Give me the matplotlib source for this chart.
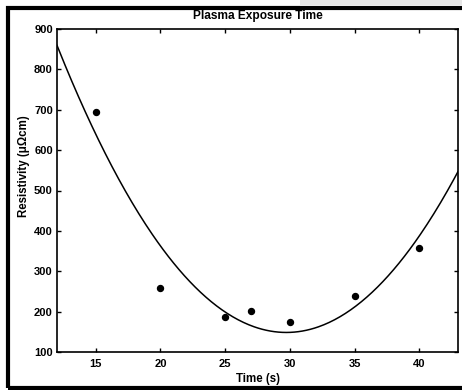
import matplotlib
matplotlib.use("Agg")
import matplotlib.pyplot as plt
from matplotlib.patches import Rectangle
import numpy as np

time_s = [15, 20, 25, 27, 30, 35, 40]
resistivity = [695, 259, 187, 201, 174, 239, 358]

x_ticks = [15, 20, 25, 30, 35, 40]
y_ticks = [100, 200, 300, 400, 500, 600, 700, 800, 900]

plt.rcParams['font.family'] = ['Liberation Sans', 'DejaVu Sans']
plt.rcParams['font.weight'] = 'bold'

fig = plt.figure(figsize=(4.62, 3.9), dpi=100)
ax = fig.add_axes([57/462, 38/390, 401/462, 323/390])

# quadratic least-squares fit, as in the original figure
coef = np.polyfit(time_s, resistivity, 2)
xfit = np.linspace(12, 43, 300)
ax.plot(xfit, np.polyval(coef, xfit), color="black", linewidth=1.1)
ax.plot(time_s, resistivity, linestyle='none', marker='o', color="black", markersize=4.3)

ax.set_xlim(12, 43)
ax.set_ylim(100, 900)
ax.set_xticks(x_ticks)
ax.set_yticks(y_ticks)
ax.tick_params(direction='in', length=3, width=1, top=True, right=True, labelsize=8)
ax.tick_params(axis='x', pad=5)
ax.tick_params(axis='y', pad=3)
for s in ax.spines.values():
    s.set_linewidth(1.2)

ax.set_title("Plasma Exposure Time", fontsize=8.6, fontweight='bold', pad=7)
ax.set_xlabel("Time (s)", fontsize=8.3, fontweight='bold', labelpad=3)
ax.set_ylabel("Resistivity (μΩcm)", fontsize=8.3, fontweight='bold')
ax.yaxis.set_label_coords(-0.068, 0.576)

# outer frame of the scanned figure
fig.patches.append(Rectangle((300/462, 385/390), 162/462, 5/390,
                             transform=fig.transFigure, facecolor="#e6e6e6",
                             edgecolor="none", zorder=0))
fig.patches.append(Rectangle((8/462, 2.5/390), 470/462, 380/390,
                             transform=fig.transFigure, facecolor="none",
                             edgecolor="black", linewidth=3, clip_on=False))

fig.savefig("out.png", dpi=100)
